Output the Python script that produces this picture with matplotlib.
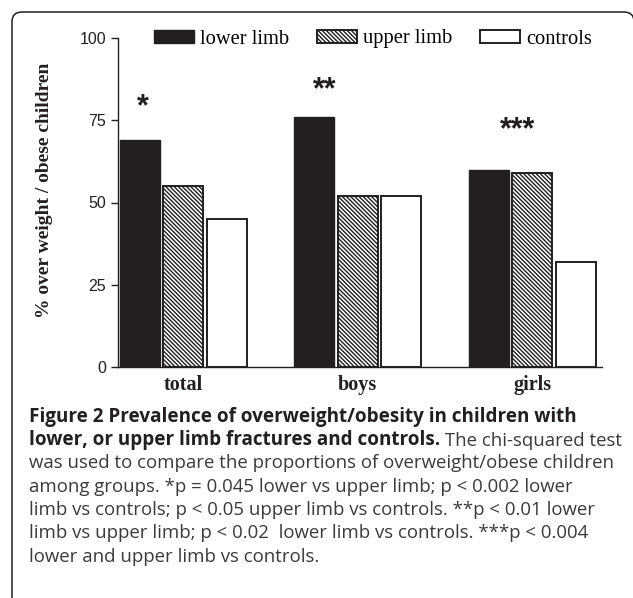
import matplotlib
matplotlib.use("Agg")
import matplotlib.pyplot as plt
import numpy as np
from matplotlib.patches import FancyBboxPatch

# ---- data ----
groups = ["total", "boys", "girls"]
series_names = ["lower limb", "upper limb", "controls"]
lower_limb = [69, 76, 60]
upper_limb = [55, 52, 59]
controls = [45, 52, 32]
stars = ["*", "**", "***"]
star_x_offset = [-0.23, -0.19, -0.086]
star_y = [78.8, 84.0, 72.1]
yticks = [0, 25, 50, 75, 100]

plt.rcParams["hatch.linewidth"] = 1.0

W, H = 633, 598
fig = plt.figure(figsize=(W / 100, H / 100), dpi=100)

# rounded frame
frame = FancyBboxPatch((12 / W, -20 / H), (634 - 12) / W, (598 - 12 + 20) / H,
                       boxstyle="round,pad=0,rounding_size=0.016",
                       transform=fig.transFigure, fill=False,
                       edgecolor="#231f20", linewidth=1.1, zorder=0)
fig.patches.append(frame)

ax = fig.add_axes([118 / W, 1 - 367 / H, (602 - 118) / W, (367 - 38) / H])

x = np.arange(len(groups))
step = 0.249
bw = 0.229
dark = "#231f20"
b1 = ax.bar(x - step, lower_limb, bw, color=dark, edgecolor=dark, linewidth=1.0,
            label=series_names[0])
b2 = ax.bar(x, upper_limb, bw, color="white", edgecolor=dark, linewidth=1.4,
            hatch="\\" * 8, label=series_names[1])
b3 = ax.bar(x + step, controls, bw, color="white", edgecolor=dark, linewidth=1.4,
            label=series_names[2])

for i, s in enumerate(stars):
    ax.text(x[i] + star_x_offset[i], star_y[i], s, ha="center", va="center",
            fontsize=22, fontweight="bold", family="Liberation Sans", color=dark)

ax.set_xlim(-0.374, 2.4)
ax.set_ylim(0, 100)
ax.set_yticks(yticks)
ax.set_yticklabels([str(v) for v in yticks], family="Liberation Sans", fontsize=11.5,
                   color=dark)
ax.set_xticks(x)
ax.set_xticklabels(groups, family="Liberation Serif", fontweight="bold", fontsize=14.5,
                   color=dark)
ax.tick_params(axis="x", length=0, pad=6)
ax.tick_params(axis="y", length=5, width=1.0, pad=3.5, color=dark, direction="out")
for sp in ["top", "right"]:
    ax.spines[sp].set_visible(False)
for sp in ["left", "bottom"]:
    ax.spines[sp].set_color(dark)
    ax.spines[sp].set_linewidth(1.0)

ax.set_ylabel("% over weight / obese children", family="Liberation Serif",
              fontweight="bold", fontsize=14, color=dark)
ax.yaxis.set_label_coords((53 - 118) / 484, (367 - 190) / 329)

fig.legend(handles=[b1, b2, b3], labels=series_names, ncol=3, frameon=False,
           loc="center left", bbox_to_anchor=(154 / W, 1 - 39 / H),
           prop={"family": "Liberation Serif", "size": 14.8},
           handlelength=1.95, handleheight=0.62, handletextpad=0.3,
           columnspacing=1.35, borderpad=0, borderaxespad=0)

# caption
cap_font = "Open Sans"
fs = 13.4
fsb = 13.6
col = "#231f20"
body = "#3a3a3a"
lines_y = [417, 440, 463, 487, 510, 533, 557]
x0 = 29 / W
fig.text(x0, 1 - lines_y[0] / H, "Figure 2 Prevalence of overweight/obesity in children with",
         family=cap_font, fontweight="bold", fontsize=fsb, color=col, va="center")
t2 = fig.text(x0, 1 - lines_y[1] / H, "lower, or upper limb fractures and controls.",
              family=cap_font, fontweight="bold", fontsize=fsb, color=col, va="center")
ax.annotate(" The chi-squared test", xy=(1, 0), xycoords=t2, va="bottom", ha="left",
            family=cap_font, fontsize=fs, color=body, annotation_clip=False)
rest = [
    "was used to compare the proportions of overweight/obese children",
    "among groups. *p = 0.045 lower vs upper limb; p < 0.002 lower",
    "limb vs controls; p < 0.05 upper limb vs controls. **p < 0.01 lower",
    "limb vs upper limb; p < 0.02  lower limb vs controls. ***p < 0.004",
    "lower and upper limb vs controls.",
]
for yy, t in zip(lines_y[2:], rest):
    fig.text(x0, 1 - yy / H, t, family=cap_font, fontsize=fs, color=body, va="center")

fig.savefig("out.png", dpi=100)
